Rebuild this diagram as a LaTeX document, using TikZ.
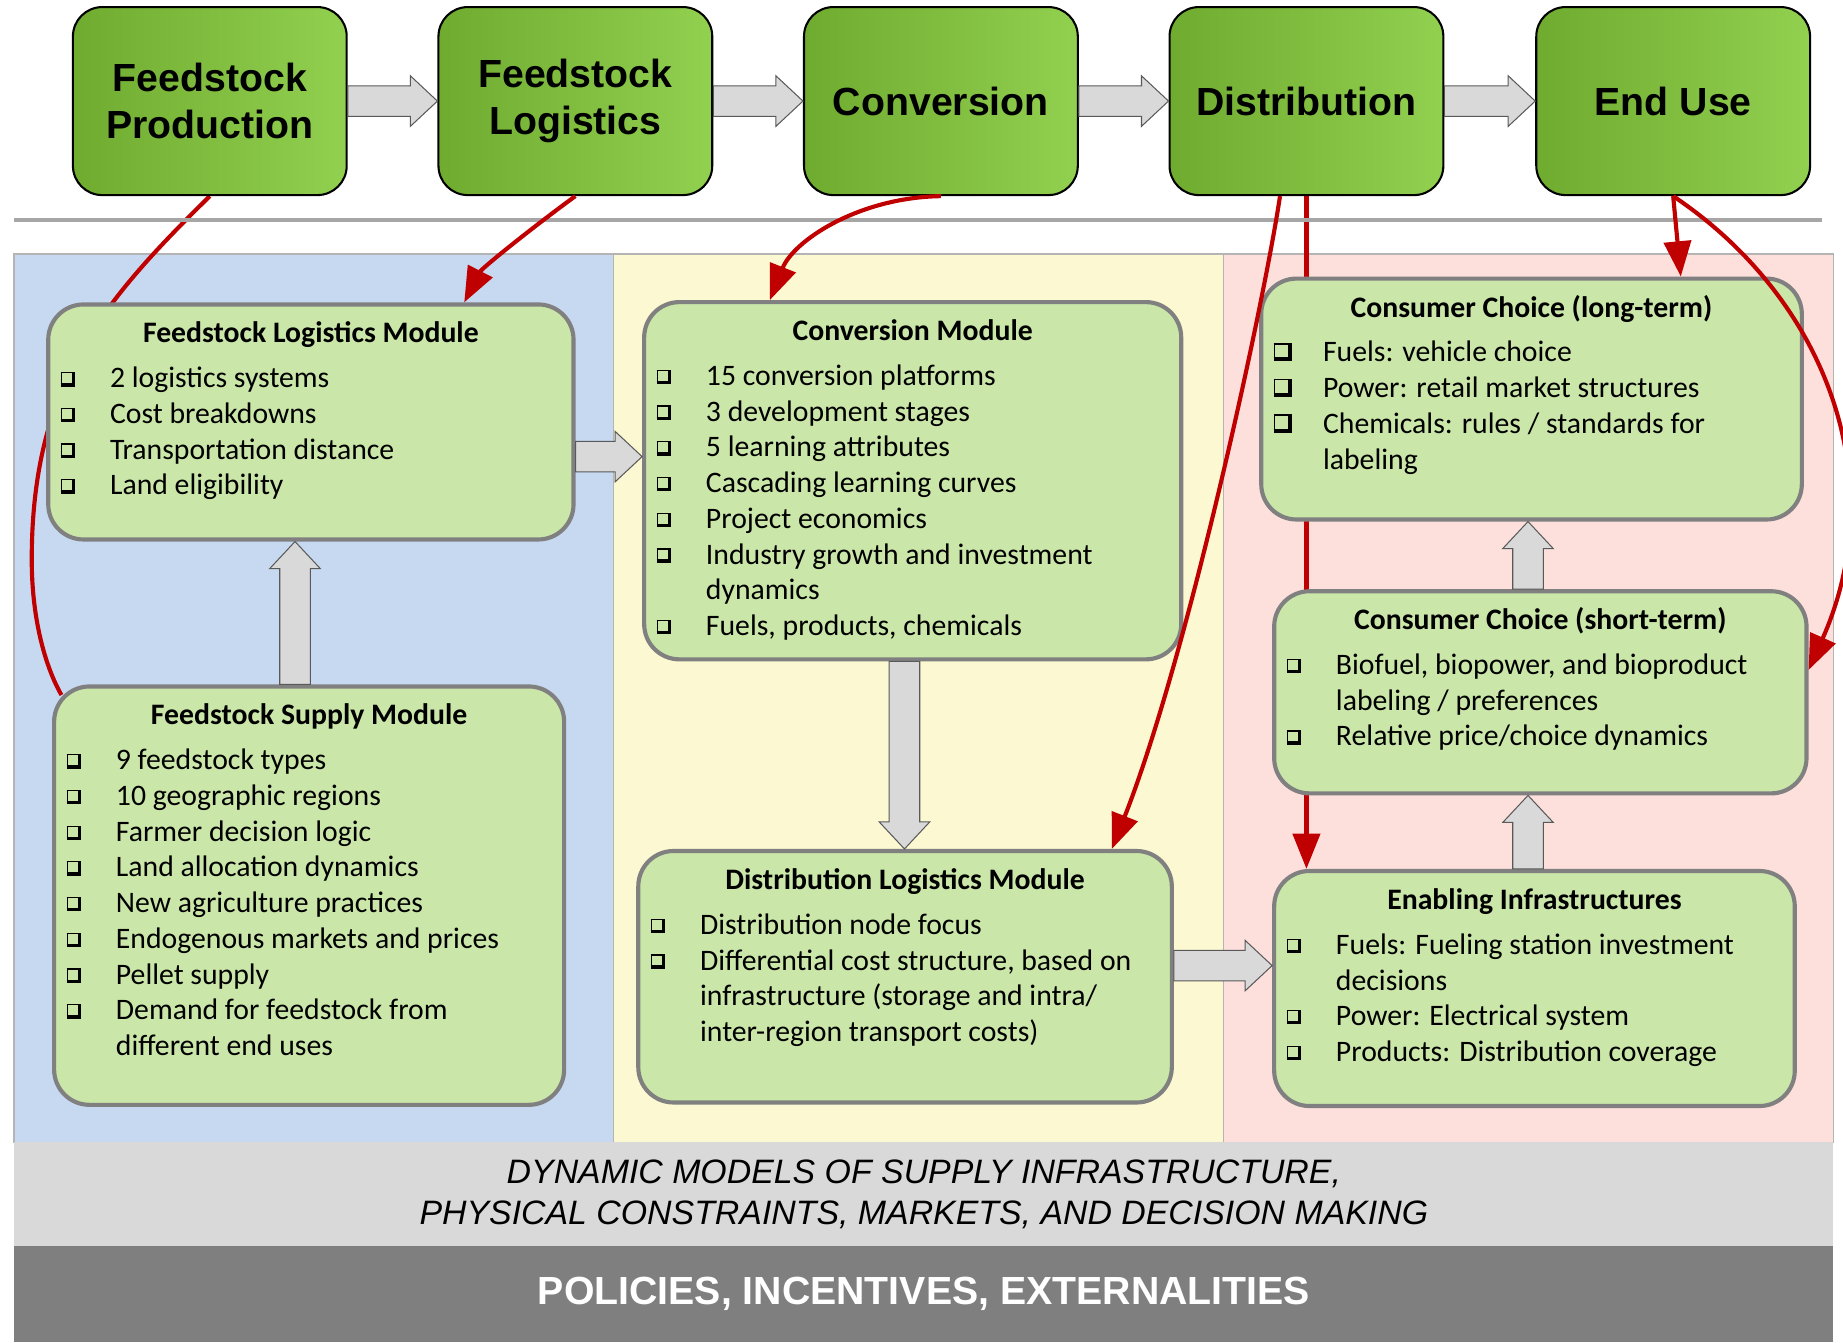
\documentclass[tikz,border=0pt]{standalone}
\usepackage{fontspec}
\setmainfont{Carlito}
\newfontfamily\arialfont{Liberation Sans}
\usetikzlibrary{arrows.meta}

\definecolor{stageL}{HTML}{6FAB2F}
\definecolor{stageR}{HTML}{92D050}
\definecolor{modfill}{HTML}{CAE6A8}
\definecolor{modline}{HTML}{808080}
\definecolor{panblue}{HTML}{C6D9F0}
\definecolor{panyellow}{HTML}{FCF8D1}
\definecolor{panpink}{HTML}{FDDFDC}
\definecolor{panline}{HTML}{B4B4B4}
\definecolor{flowred}{HTML}{C00000}
\definecolor{arrowgray}{HTML}{D9D9D9}
\definecolor{arrowline}{HTML}{595959}
\definecolor{barlight}{HTML}{D9D9D9}
\definecolor{bardark}{HTML}{7F7F7F}

\pgfdeclarelayer{back}
\pgfsetlayers{back,main}

% shadowed square bullets
\newcommand{\bx}{\raisebox{0.6pt}{%
  \rlap{\rule[1pt]{0.6pt}{6pt}}\rlap{\rule[6.4pt]{6pt}{0.6pt}}%
  \rlap{\rule{7pt}{1.6pt}}\rlap{\hspace{5.4pt}\rule{1.6pt}{7pt}}\hspace{7pt}}}
\newcommand{\bigbx}{\raisebox{0.2pt}{%
  \rlap{\rule[1.2pt]{0.8pt}{7.8pt}}\rlap{\rule[8.2pt]{7.8pt}{0.8pt}}%
  \rlap{\rule{9pt}{2pt}}\rlap{\hspace{7pt}\rule{2pt}{9pt}}\hspace{9pt}}}
\newcommand{\itemlist}[1]{\begin{tabular}{@{}p{0.84cm}@{}l@{}}#1\end{tabular}}

% gray block arrows, tip at #2
\newcommand{\rarrow}[2]{%
  \draw[grayarrow] ([yshift=0.26cm]#1) -- ([shift={(-0.46cm,0.26cm)}]#2)
    -- ([shift={(-0.46cm,0.43cm)}]#2) -- (#2) -- ([shift={(-0.46cm,-0.43cm)}]#2)
    -- ([shift={(-0.46cm,-0.26cm)}]#2) -- ([yshift=-0.26cm]#1) -- cycle;}
\newcommand{\uarrow}[2]{%
  \draw[grayarrow] ([xshift=-0.26cm]#1) -- ([shift={(-0.26cm,-0.46cm)}]#2)
    -- ([shift={(-0.43cm,-0.46cm)}]#2) -- (#2) -- ([shift={(0.43cm,-0.46cm)}]#2)
    -- ([shift={(0.26cm,-0.46cm)}]#2) -- ([xshift=0.26cm]#1) -- cycle;}
\newcommand{\darrow}[2]{%
  \draw[grayarrow] ([xshift=-0.26cm]#1) -- ([shift={(-0.26cm,0.46cm)}]#2)
    -- ([shift={(-0.43cm,0.46cm)}]#2) -- (#2) -- ([shift={(0.43cm,0.46cm)}]#2)
    -- ([shift={(0.26cm,0.46cm)}]#2) -- ([xshift=0.26cm]#1) -- cycle;}

\tikzset{
  stage/.style={draw=black, line width=1pt, rounded corners=0.5cm,
    left color=stageL, right color=stageR, minimum width=4.66cm, minimum height=3.2cm,
    align=center, font=\arialfont\bfseries\fontsize{19pt}{22.8pt}\selectfont},
  module/.style={draw=modline, line width=2pt, fill=modfill, rounded corners=0.6cm},
  modtitle/.style={inner sep=0pt, anchor=base, font=\bfseries\fontsize{14.4pt}{17.3pt}\selectfont},
  modlist/.style={inner sep=0pt, anchor=north west, font=\fontsize{14.4pt}{17.3pt}\selectfont},
  panel/.style={draw=panline, line width=0.8pt},
  flow/.style={draw=flowred, line width=2pt},
  tip/.style={-{Triangle[length=0.6cm,width=0.46cm]}},
  grayarrow/.style={fill=arrowgray, draw=arrowline, line width=0.5pt},
}

\begin{document}
\begin{tikzpicture}[x=0.02cm, y=-0.02cm]
  \useasboundingbox (0,0) rectangle (1568,1142);

  % value chain stages
  \node[stage] (fp) at (178.5,86) {Feedstock\\Production};
  \node[stage] (fg) at (489.5,86) {Feedstock\\Logistics};
  \node[stage] (cv) at (800.5,86) {Conversion};
  \node[stage] (ds) at (1111.5,86) {Distribution};
  \node[stage] (eu) at (1423.5,86) {End Use};
  \rarrow{fp.east}{fg.west}
  \rarrow{fg.east}{cv.west}
  \rarrow{cv.east}{ds.west}
  \rarrow{ds.east}{eu.west}

  \draw[line width=1.7pt, color=gray!70] (12,187) -- (1550,187);

  % modules
  \node[module, minimum width=8.94cm, minimum height=4cm] (flm) at (264.5,359) {};
  \node[modtitle] (flmT) at ([yshift=-0.69cm]flm.north) {Feedstock Logistics Module};
  \node[modlist] (flmL) at ([shift={(0.24cm,-1.02cm)}]flm.north west) {\itemlist{
    \bx & 2 logistics systems\\
    \bx & Cost breakdowns\\
    \bx & Transportation distance\\
    \bx & Land eligibility}};

  \node[module, minimum width=8.68cm, minimum height=7.12cm] (fsm) at (263,762) {};
  \node[modtitle] (fsmT) at ([yshift=-0.69cm]fsm.north) {Feedstock Supply Module};
  \node[modlist] (fsmL) at ([shift={(0.24cm,-1.02cm)}]fsm.north west) {\itemlist{
    \bx & 9 feedstock types\\
    \bx & 10 geographic regions\\
    \bx & Farmer decision logic\\
    \bx & Land allocation dynamics\\
    \bx & New agriculture practices\\
    \bx & Endogenous markets and prices\\
    \bx & Pellet supply\\
    \bx & Demand for feedstock from\\
        & different end uses}};

  \node[module, minimum width=9.14cm, minimum height=6.08cm] (cvm) at (776.5,409) {};
  \node[modtitle] (cvmT) at ([yshift=-0.69cm]cvm.north) {Conversion Module};
  \node[modlist] (cvmL) at ([shift={(0.24cm,-1.02cm)}]cvm.north west) {\itemlist{
    \bx & 15 conversion platforms\\
    \bx & 3 development stages\\
    \bx & 5 learning attributes\\
    \bx & Cascading learning curves\\
    \bx & Project economics\\
    \bx & Industry growth and investment\\
        & dynamics\\
    \bx & Fuels, products, chemicals}};

  \node[module, minimum width=9.08cm, minimum height=4.28cm] (dlm) at (770,831) {};
  \node[modtitle] (dlmT) at ([yshift=-0.69cm]dlm.north) {Distribution Logistics Module};
  \node[modlist] (dlmL) at ([shift={(0.24cm,-1.02cm)}]dlm.north west) {\itemlist{
    \bx & Distribution node focus\\
    \bx & Differential cost structure, based on\\
        & infrastructure (storage and intra/\\
        & inter-region transport costs)}};

  \node[module, minimum width=9.2cm, minimum height=4.1cm] (ccl) at (1303,339.5) {};
  \node[modtitle] (cclT) at ([yshift=-0.69cm]ccl.north) {Consumer Choice (long-term)};
  \node[modlist] (cclL) at ([shift={(0.24cm,-1.02cm)}]ccl.north west) {\itemlist{
    \bigbx & Fuels: vehicle choice\\
    \bigbx & Power: retail market structures\\
    \bigbx & Chemicals: rules / standards for\\
           & labeling}};

  \node[module, minimum width=9.06cm, minimum height=3.44cm] (ccs) at (1310.5,589) {};
  \node[modtitle] (ccsT) at ([yshift=-0.69cm]ccs.north) {Consumer Choice (short-term)};
  \node[modlist] (ccsL) at ([shift={(0.24cm,-1.02cm)}]ccs.north west) {\itemlist{
    \bx & Biofuel, biopower, and bioproduct\\
        & labeling / preferences\\
    \bx & Relative price/choice dynamics}};

  \node[module, minimum width=8.86cm, minimum height=4cm] (eim) at (1305.5,841) {};
  \node[modtitle] (eimT) at ([yshift=-0.69cm]eim.north) {Enabling Infrastructures};
  \node[modlist] (eimL) at ([shift={(0.24cm,-1.02cm)}]eim.north west) {\itemlist{
    \bx & Fuels: Fueling station investment\\
        & decisions\\
    \bx & Power: Electrical system\\
    \bx & Products: Distribution coverage}};

  % links between modules
  \coordinate (flmR) at ([yshift=-0.59cm]flm.east);
  \coordinate (cvmL) at (flmR -| cvm.west);
  \rarrow{flmR}{cvmL}
  \coordinate (dlmR) at ([yshift=0.19cm]dlm.east);
  \coordinate (eimL) at (dlmR -| eim.west);
  \rarrow{dlmR}{eimL}
  \coordinate (fsmT) at ([xshift=-0.24cm]fsm.north);
  \coordinate (flmB) at (fsmT |- flm.south);
  \uarrow{fsmT}{flmB}
  \coordinate (cvmB) at ([xshift=-0.14cm]cvm.south);
  \coordinate (dlmT) at (cvmB |- dlm.north);
  \darrow{cvmB}{dlmT}
  \coordinate (eimT) at ([xshift=-0.11cm]eim.north);
  \coordinate (ccsB) at (eimT |- ccs.south);
  \uarrow{eimT}{ccsB}
  \coordinate (ccsT) at ([xshift=-0.21cm]ccs.north);
  \coordinate (cclB) at (ccsT |- ccl.south);
  \uarrow{ccsT}{cclB}

  % red links from the stages
  \draw[flow, tip] (fg.south) .. controls (455,192) and (410,228) .. ([xshift=2.61cm]flm.north);
  \draw[flow, tip] (cv.south) .. controls (730,168) and (675,205) .. ([xshift=-2.43cm]cvm.north);
  \draw[flow, tip] ([xshift=-0.45cm]ds.south) .. controls (1075,260) and (1010,560) .. ([xshift=3.52cm]dlm.north);
  \draw[flow, tip] (eu.south) -- ([xshift=2.54cm]ccl.north);
  \draw[flow, tip] (eu.south) .. controls (1555,255) and (1610,410) .. ([yshift=0.38cm]ccs.east);

  % bottom bars
  \node[fill=barlight, minimum width=30.96cm, minimum height=1.76cm, inner sep=0pt, align=center,
    font=\arialfont\itshape\fontsize{16.4pt}{19.9pt}\selectfont] (dyn) at (786,1016)
    {DYNAMIC MODELS OF SUPPLY INFRASTRUCTURE,\\PHYSICAL CONSTRAINTS, MARKETS, AND DECISION MAKING};
  \node[fill=bardark, minimum width=30.96cm, minimum height=1.64cm, inner sep=0pt, text=white,
    font=\arialfont\bfseries\fontsize{19pt}{22.8pt}\selectfont] (pol) at (786,1101)
    {POLICIES, INCENTIVES, EXTERNALITIES};

  \begin{pgfonlayer}{back}
    \draw[panel, fill=panblue] (12,216) rectangle (522,972);
    \draw[panel, fill=panyellow] (522,216) rectangle (1041,972);
    \draw[panel, fill=panpink] (1041,216) rectangle (1560,972);
    % links passing behind the modules
    \draw[flow] (fp.south) .. controls (88,256) and (27,326) .. (27,476)
      .. controls (27,530) and (40,570) .. ([shift={(8,9)}]fsm.north west);
    \draw[flow, tip] (ds.south) -- (ds.south |- eim.north);
  \end{pgfonlayer}
\end{tikzpicture}
\end{document}
